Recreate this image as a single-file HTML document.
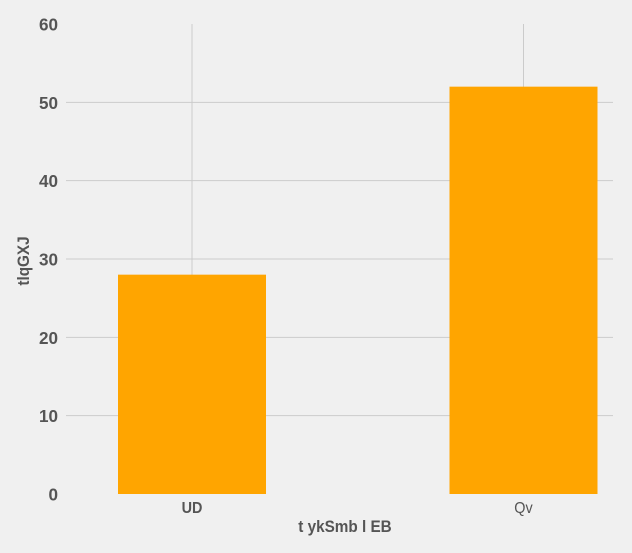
<!DOCTYPE html>
<html><head><meta charset="utf-8"><style>
html,body{margin:0;padding:0;background:#f0f0f0;}
svg{display:block;font-family:"Liberation Sans",sans-serif;}
</style></head><body>
<svg id="chart" width="632" height="553"></svg>
<script>
const categories=["UD","Qv"];
const values=[28,52];
const yTicks=[0,10,20,30,40,50,60];
const yMax=60;
const ns="http://www.w3.org/2000/svg";
const svg=document.getElementById('chart');
const x0=66,x1=613,y0=494,y1=24;
const y=v=>y0-(v/yMax)*(y0-y1);
const centers=[192,523.5];
const bw=148;
const cx=i=>centers[0]+i*(centers[1]-centers[0]);
function mk(t,a){const e=document.createElementNS(ns,t);for(const k in a)e.setAttribute(k,a[k]);svg.appendChild(e);return e;}
yTicks.forEach(t=>{
  if(t>0&&t<yMax){const l=mk('line',{x1:x0,x2:x1,y1:y(t),y2:y(t),stroke:'#cbcbcb','stroke-width':1});
  
  }
  const tx=mk('text',{x:58/0.95,y:y(t)+6.5,'text-anchor':'end','font-size':18,'font-weight':'bold',fill:'#555',transform:'scale(0.95 1)'});
  
  
  tx.textContent=t;
});
categories.forEach((c,i)=>{
  const g=mk('line',{x1:cx(i),x2:cx(i),y1:y1,y2:y0,stroke:'#cbcbcb','stroke-width':1});
  
  
});
categories.forEach((c,i)=>{
  const r=mk('rect',{x:cx(i)-bw/2,y:y(values[i]),width:bw,height:y0-y(values[i]),fill:'#ffa500'});
  
  
  const t=mk('text',{x:cx(i)/0.9,y:513,'text-anchor':'middle','font-size':16,'font-weight':i===0?'bold':'normal',fill:'#555',transform:'scale(0.9 1)'});
  
  
  t.textContent=c;
});
const xt=mk('text',{x:345/0.9,y:532,'text-anchor':'middle','font-size':17,'font-weight':'bold',fill:'#555',transform:'scale(0.9 1)'});


xt.textContent='t ykSmb l EB';
const yt=mk('text',{x:0,y:0,'text-anchor':'middle','font-size':17,'font-weight':'bold',fill:'#555',transform:'translate(29 261) rotate(-90) scale(0.9 1)'});


yt.textContent='tlqGXJ';
</script>
</body></html>
